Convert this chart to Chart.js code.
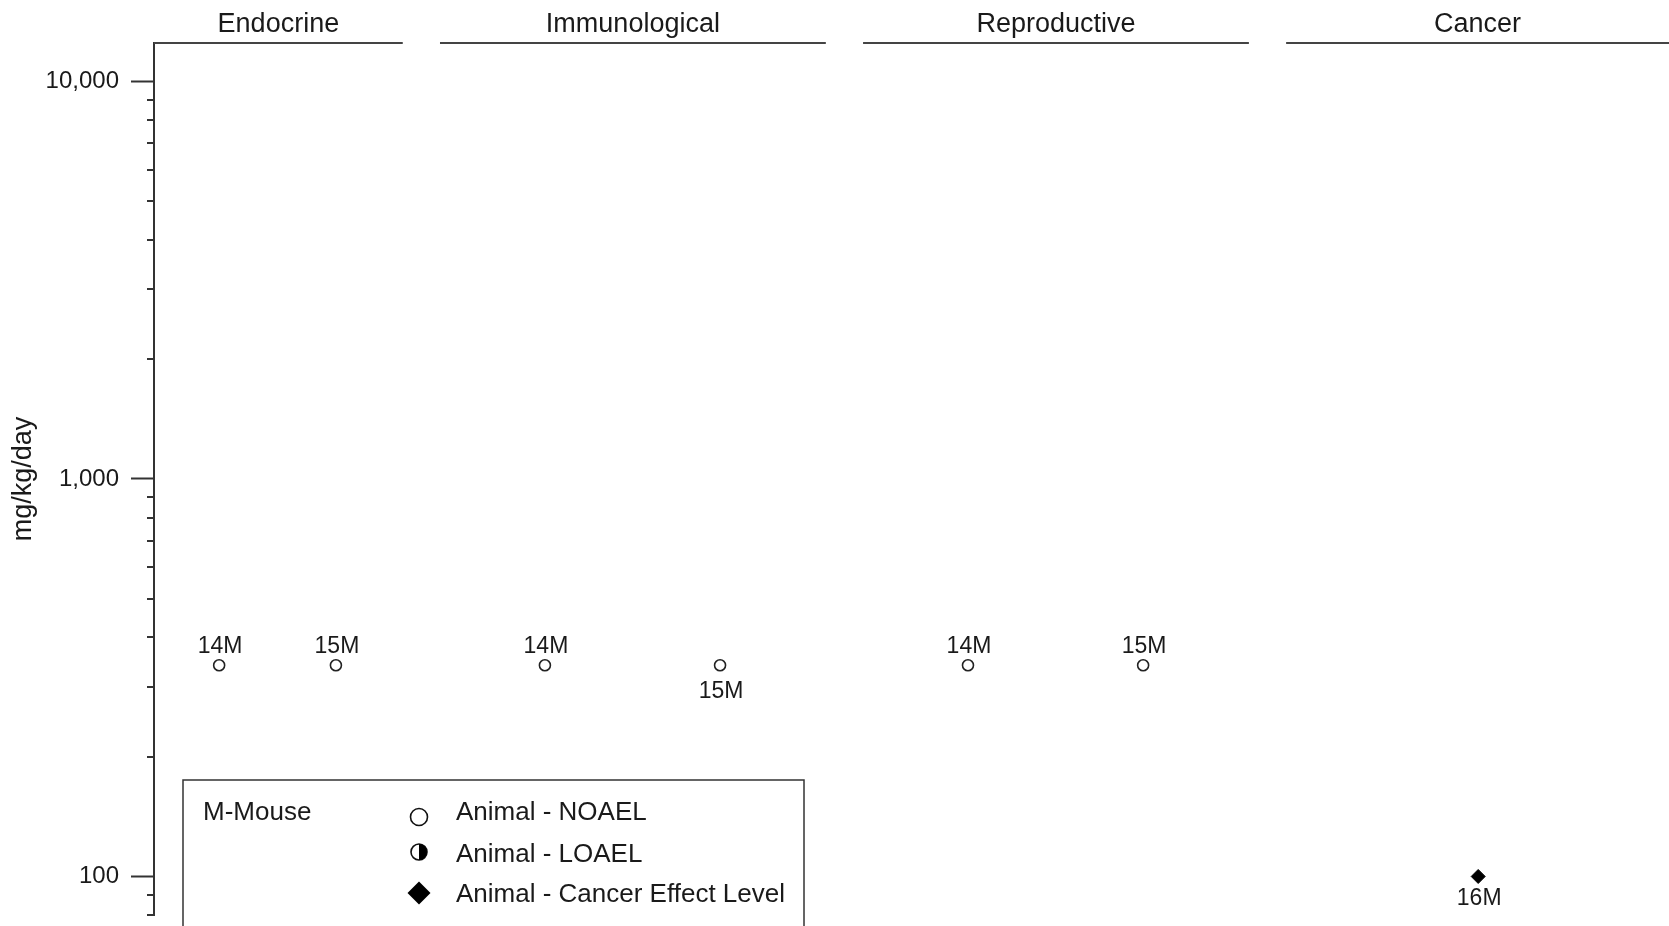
<!DOCTYPE html>
<html>
<head>
<meta charset="utf-8">
<script src="https://cdn.jsdelivr.net/npm/chart.js@4.4.0/dist/chart.umd.min.js"></script>
<style>
html, body { margin: 0; padding: 0; background: #fff; overflow: hidden; }
#wrap { width: 1669px; height: 926px; }
</style>
</head>
<body>
<div id="wrap"><canvas id="lse"></canvas></div>
<script>
// --- Painéis (posição em unidades do eixo x)
const panelNames = ["Endocrine", "Immunological", "Reproductive", "Cancer"];
const panelStart = [0, 1, 2, 3];
const panelEnd = [0.912, 1.912, 2.912, 3.912];

// --- NOAEL (animal)
const noaelX = [0.478, 0.754, 1.248, 1.662, 2.248, 2.662];
const noaelY = [340, 340, 340, 340, 340, 340];
const noaelLabels = ["14M", "15M", "14M", "15M", "14M", "15M"];
const noaelLabelPos = ["above", "above", "above", "below", "above", "above"];

// --- Cancer Effect Level
const cancerX = [3.454];
const cancerY = [100];
const cancerLabels = ["16M"];
const cancerLabelPos = ["below"];

// --- Eixo y
const yTickValues = [80, 90, 100, 200, 300, 400, 500, 600, 700, 800, 900,
    1000, 2000, 3000, 4000, 5000, 6000, 7000, 8000, 9000, 10000];
const yTickLabels = { 100: "100", 1000: "1,000", 10000: "10,000" };

// --- Legenda
const legendSpecies = "M-Mouse";
const legendItems = ["Animal - NOAEL", "Animal - LOAEL", "Animal - Cancer Effect Level"];

const FONT = '"Liberation Sans", Arial, sans-serif';
const INK = "#1a1a1a";

function toPoints(xs, ys) {
    return xs.map((x, i) => ({ x: x, y: ys[i] }));
}

function noPadding(s) {
    s.paddingTop = 0;
    s.paddingBottom = 0;
    s.paddingLeft = 0;
    s.paddingRight = 0;
}

// --- Desenha cabeçalhos, ticks menores, rótulos e legenda
const lseDecor = {
    id: "lseDecor",
    afterDraw(chart) {
        const ctx = chart.ctx;
        const area = chart.chartArea;
        const xs = chart.scales.x;
        const ys = chart.scales.y;
        const W = chart.width;

        ctx.save();

        // cabeçalhos dos painéis
        ctx.strokeStyle = "#444";
        ctx.lineWidth = 2;
        ctx.fillStyle = INK;
        ctx.font = "27px " + FONT;
        ctx.textAlign = "center";
        ctx.textBaseline = "alphabetic";
        panelNames.forEach((name, i) => {
            const a = Math.max(xs.getPixelForValue(panelStart[i]), area.left);
            const b = Math.min(xs.getPixelForValue(panelEnd[i]), W);
            ctx.beginPath();
            ctx.moveTo(a, area.top);
            ctx.lineTo(b, area.top);
            ctx.stroke();
            ctx.fillText(name, (a + b) / 2, 31.5);
        });

        // ticks menores
        ctx.strokeStyle = "#333";
        ctx.lineWidth = 2;
        ys.ticks.forEach(t => {
            if (yTickLabels[t.value]) return;
            const y = Math.round(ys.getPixelForValue(t.value));
            ctx.beginPath();
            ctx.moveTo(area.left - 7, y);
            ctx.lineTo(area.left, y);
            ctx.stroke();
        });

        // rótulos dos pontos
        ctx.font = "23px " + FONT;
        ctx.fillStyle = INK;
        const labelSets = [
            { ds: 0, labels: noaelLabels, pos: noaelLabelPos, up: 12, down: 33 },
            { ds: 1, labels: cancerLabels, pos: cancerLabelPos, up: 12, down: 29 }
        ];
        labelSets.forEach(s => {
            chart.getDatasetMeta(s.ds).data.forEach((pt, i) => {
                const y = s.pos[i] === "above" ? pt.y - s.up : pt.y + s.down;
                ctx.fillText(s.labels[i], pt.x + 1, y);
            });
        });

        // legenda
        ctx.strokeStyle = "#333";
        ctx.lineWidth = 1.5;
        ctx.strokeRect(183, 780, 621, 200);
        ctx.font = "26px " + FONT;
        ctx.textAlign = "left";
        ctx.fillText(legendSpecies, 203, 820);
        const rows = [820, 862, 902];
        legendItems.forEach((txt, i) => ctx.fillText(txt, 456, rows[i]));

        // símbolo NOAEL
        ctx.lineWidth = 1.6;
        ctx.strokeStyle = "#111";
        ctx.fillStyle = "#fff";
        ctx.beginPath();
        ctx.arc(419, 817, 8.5, 0, Math.PI * 2);
        ctx.fill();
        ctx.stroke();
        // símbolo LOAEL (meio cheio)
        ctx.beginPath();
        ctx.arc(419, 852, 8, 0, Math.PI * 2);
        ctx.fill();
        ctx.stroke();
        ctx.fillStyle = "#000";
        ctx.beginPath();
        ctx.arc(419, 852, 8, -Math.PI / 2, Math.PI / 2);
        ctx.closePath();
        ctx.fill();
        // símbolo câncer
        ctx.beginPath();
        ctx.moveTo(419, 893 - 11.5);
        ctx.lineTo(419 + 11.5, 893);
        ctx.lineTo(419, 893 + 11.5);
        ctx.lineTo(419 - 11.5, 893);
        ctx.closePath();
        ctx.fill();

        ctx.restore();
    }
};

Chart.defaults.font.family = FONT;
Chart.defaults.color = INK;

new Chart(document.getElementById("lse"), {
    type: "scatter",
    data: {
        datasets: [
            {
                label: "Animal - NOAEL",
                data: toPoints(noaelX, noaelY),
                pointStyle: "circle",
                pointRadius: 5.5,
                pointBorderWidth: 1.6,
                borderColor: "#222",
                backgroundColor: "#fff",
                clip: false
            },
            {
                label: "Animal - Cancer Effect Level",
                data: toPoints(cancerX, cancerY),
                pointStyle: "rectRot",
                pointRadius: 7,
                pointBorderWidth: 1,
                borderColor: "#000",
                backgroundColor: "#000",
                clip: false
            }
        ]
    },
    options: {
        responsive: true,
        maintainAspectRatio: false,
        animation: false,
        layout: { autoPadding: false, padding: { top: 43, bottom: 11, left: 0, right: 0 } },
        plugins: {
            legend: { display: false },
            tooltip: { enabled: false }
        },
        scales: {
            x: {
                type: "linear",
                min: 0.324,
                max: 3.905,
                display: false,
                afterFit: noPadding
            },
            y: {
                type: "logarithmic",
                min: 80,
                max: 12500,
                afterBuildTicks: s => {
                    s.ticks = yTickValues.map(v => ({ value: v, major: !!yTickLabels[v] }));
                },
                afterFit: s => { s.width = 154; noPadding(s); },
                ticks: {
                    autoSkip: false,
                    callback: v => yTickLabels[v] || "",
                    font: { size: 24 },
                    color: INK,
                    padding: 12
                },
                grid: {
                    display: true,
                    drawOnChartArea: false,
                    drawTicks: true,
                    tickLength: 23,
                    tickWidth: 2,
                    tickColor: c => (c.tick && yTickLabels[c.tick.value]) ? "#333" : "rgba(0,0,0,0)"
                },
                border: { display: true, color: "#333", width: 2 },
                title: {
                    display: true,
                    text: "mg/kg/day",
                    font: { size: 27 },
                    color: INK,
                    padding: { top: 7, bottom: 0 }
                }
            }
        }
    },
    plugins: [lseDecor]
});
</script>
</body>
</html>
